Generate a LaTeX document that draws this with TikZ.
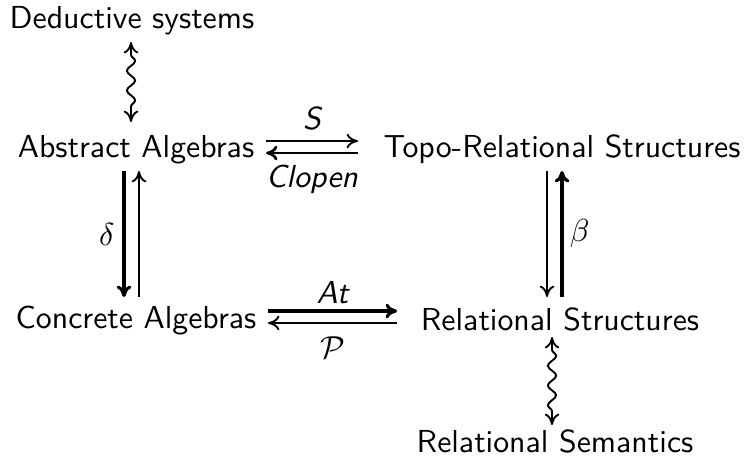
\documentclass[tikz,border=0pt]{standalone}
\usetikzlibrary{decorations.pathmorphing,arrows.meta}
\begin{document}
\begin{tikzpicture}[x=0.3145pt,y=-0.3145pt,
  lbl/.style={font=\sffamily, inner sep=0pt, anchor=base},
  tip/.style={-{Computer Modern Rightarrow[length=3.6pt,width=4.6pt]}},
  bitip/.style={{Computer Modern Rightarrow[length=3.6pt,width=4.6pt]}-{Computer Modern Rightarrow[length=3.6pt,width=4.6pt]}},
  thinarr/.style={tip, line width=0.6pt},
  thickarr/.style={tip, line width=1pt},
  wavy/.style={bitip, line width=0.6pt, decorate, decoration={snake, amplitude=1.3pt, segment length=6.2pt, pre length=4pt, post length=4pt}},
  edgelbl/.style={font=\sffamily\itshape, inner sep=0pt}]
\useasboundingbox (0,0) rectangle (747,460);
\node[lbl] (ded) at (132,28) {Deductive systems};
\node[lbl] (abs) at (136,157) {Abstract Algebras};
\node[lbl] (topo) at (562,157) {Topo-Relational Structures};
\node[lbl] (con) at (136,328) {Concrete Algebras};
\node[lbl] (rel) at (560,330) {Relational Structures};
\node[lbl] (sem) at (555,452) {Relational Semantics};
% wavy
\coordinate (w1a) at (131,42);
\coordinate (w1b) at (131,122);
\draw[wavy] (w1a) -- (w1b);
\coordinate (w2a) at (552,337);
\coordinate (w2b) at (552,425);
\draw[wavy] (w2a) -- (w2b);
% S / Clopen
\coordinate (s1) at (266,141);
\coordinate (s2) at (358,141);
\coordinate (c1) at (358,153);
\coordinate (c2) at (266,153);
\draw[thinarr] (s1) -- node[edgelbl, above=3pt] {S} (s2);
\draw[thickarr, line width=0.85pt] (c1) -- node[edgelbl, below=3.5pt] {Clopen} (c2);
% delta
\coordinate (d1) at (124,171);
\coordinate (d2) at (124,297);
\coordinate (u1) at (139,297);
\coordinate (u2) at (139,171);
\draw[thickarr] (d1) -- node[left=2.5pt, inner sep=0pt] {$\delta$} (d2);
\draw[thinarr] (u1) -- (u2);
% beta
\coordinate (b1) at (547,171);
\coordinate (b2) at (547,297);
\coordinate (b3) at (562,297);
\coordinate (b4) at (562,171);
\draw[thinarr] (b1) -- (b2);
\draw[thickarr] (b3) -- node[right=2pt, inner sep=0pt] {$\beta$} (b4);
% At / P
\coordinate (a1) at (268,311);
\coordinate (a2) at (397,311);
\coordinate (p1) at (397,323);
\coordinate (p2) at (268,323);
\draw[thickarr] (a1) -- node[edgelbl, above=1.8pt] {At} (a2);
\draw[thinarr] (p1) -- node[below=4pt, inner sep=0pt] {$\mathcal{P}$} (p2);
\end{tikzpicture}
\end{document}
